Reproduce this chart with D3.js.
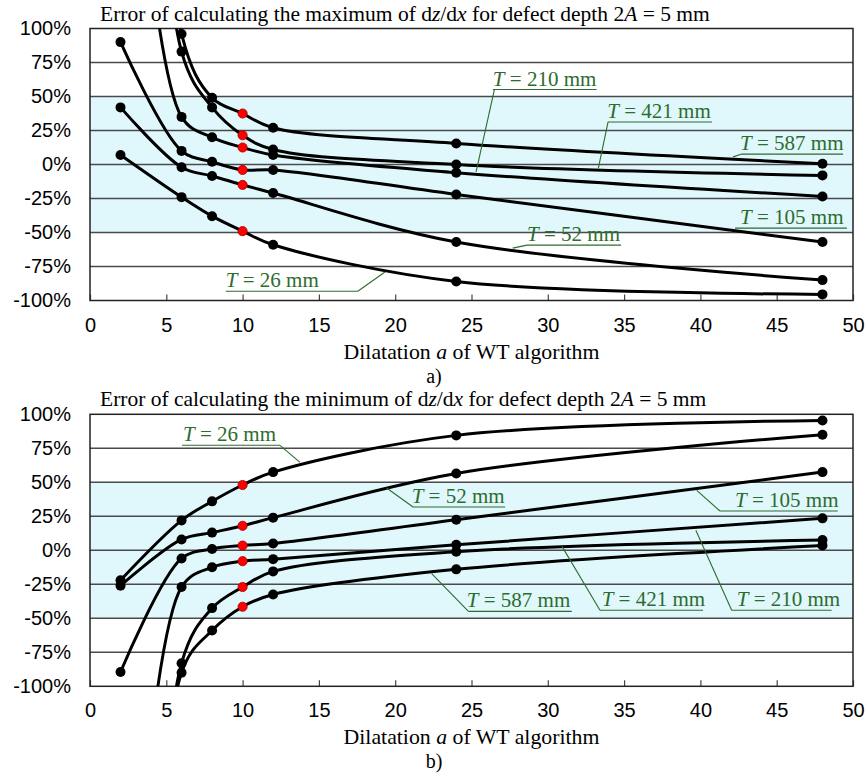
<!DOCTYPE html>
<html>
<head>
<meta charset="utf-8">
<script src="https://cdnjs.cloudflare.com/ajax/libs/d3/7.8.5/d3.min.js"></script>
<style>
  body { margin: 0; background: #fff; }
  svg { display: block; }
</style>
</head>
<body>
<div id="chart"></div>
<script>
// dilatation a of the WT algorithm (x axis)
var dilatation = [2, 6, 8, 10, 12, 24, 48];
// wall thickness T of each series, mm
var thickness = [26, 52, 105, 210, 421, 587];

// a) error of the maximum of dz/dx, %  (first values of 210/421/587 lie above the axis)
var maxErrT26  = [7, -24, -38, -49, -59, -86, -95.5];
var maxErrT52  = [42, -2, -8.5, -15, -21, -57, -85];
var maxErrT105 = [90, 10, 2, -4, -4, -22, -57];
var maxErrT210 = [400, 35, 20, 12.5, 7, -6, -23.5];
var maxErrT421 = [1000, 83, 42, 21.5, 11, 0, -8];
var maxErrT587 = [1000, 96, 49, 37.5, 27, 15.5, 0.5];

// b) error of the minimum of dz/dx, %  (first values of 210/421/587 lie below the axis)
var minErrT26  = [-22, 22, 36, 48, 57.5, 84.5, 95.5];
var minErrT52  = [-26, 8, 13, 18, 24, 56.5, 85];
var minErrT105 = [-89.5, -6, 1, 3.5, 5, 22.5, 57.5];
var minErrT210 = [-400, -27, -12.5, -8, -6.5, 4, 23.5];
var minErrT421 = [-1000, -83, -42.5, -27, -15.5, -1, 7.5];
var minErrT587 = [-1000, -90, -59, -41.5, -32.5, -14, 3.5];

var xTicks = [0, 5, 10, 15, 20, 25, 30, 35, 40, 45, 50];
var yTicks = [-100, -75, -50, -25, 0, 25, 50, 75, 100];
var highlightA = 10;   // red markers

var width = 867, height = 778;
var plotLeft = 90, plotRight = 853, plotHeight = 272;
var serif = "'Liberation Serif', 'Times New Roman', serif";
var sans = "'Liberation Sans', Arial, sans-serif";
var green = "#2e6b2e";

var svg = d3.select("#chart").append("svg")
  .attr("width", width)
  .attr("height", height);

// write text made of [string, italic] pieces
function richText(sel, parts) {
  parts.forEach(function(p) {
    sel.append("tspan").text(p[0]).style("font-style", p[1] ? "italic" : "normal");
  });
  return sel;
}

function drawPanel(cfg) {
  var top = cfg.top;
  var x = d3.scaleLinear().domain([0, 50]).range([plotLeft, plotRight]);
  var y = d3.scaleLinear().domain([-100, 100]).range([top + plotHeight, top]);
  var g = svg.append("g");

  // light band between -50% and 50%
  g.append("rect")
    .attr("x", x(0)).attr("y", y(50))
    .attr("width", x(50) - x(0)).attr("height", y(-50) - y(50))
    .attr("fill", "#e0f8fc");

  // horizontal grid
  g.selectAll(".grid")
    .data(yTicks.filter(function(d) { return Math.abs(d) < 100; }))
    .enter().append("line")
      .attr("x1", x(0)).attr("x2", x(50))
      .attr("y1", function(d) { return y(d); })
      .attr("y2", function(d) { return y(d); })
      .attr("stroke", "#4a4a4a")
      .attr("stroke-width", 1.4);

  // x axis, ticks point inwards
  var xAxis = g.append("g")
    .attr("transform", "translate(0," + y(-100) + ")")
    .call(d3.axisBottom(x).tickValues(xTicks).tickSizeInner(-6).tickSizeOuter(0).tickPadding(17));
  xAxis.select(".domain").remove();
  xAxis.selectAll("line").attr("stroke", "#444").attr("stroke-width", 1.2);
  xAxis.selectAll("text").style("font-family", sans).style("font-size", "20px").attr("fill", "#000");

  // y axis
  var yAxis = g.append("g")
    .attr("transform", "translate(" + x(0) + ",0)")
    .call(d3.axisLeft(y).tickValues(yTicks).tickSize(0).tickPadding(19)
      .tickFormat(function(d) { return d + "%"; }));
  yAxis.select(".domain").remove();
  yAxis.selectAll("text").style("font-family", sans).style("font-size", "20px").attr("fill", "#000");

  // frame
  g.append("rect")
    .attr("x", x(0)).attr("y", y(100))
    .attr("width", x(50) - x(0)).attr("height", y(-100) - y(100))
    .attr("fill", "none")
    .attr("stroke", "#222")
    .attr("stroke-width", 1.5);

  var clipId = "clip" + cfg.id;
  svg.append("clipPath").attr("id", clipId)
    .append("rect")
      .attr("x", x(0)).attr("y", y(100))
      .attr("width", x(50) - x(0)).attr("height", y(-100) - y(100));

  var plot = g.append("g").attr("clip-path", "url(#" + clipId + ")");

  var line = d3.line()
    .curve(d3.curveCatmullRom)
    .x(function(d, i) { return x(dilatation[i]); })
    .y(function(d) { return y(d); });

  cfg.series.forEach(function(values) {
    plot.append("path")
      .datum(values)
      .attr("d", line)
      .attr("fill", "none")
      .attr("stroke", "#000")
      .attr("stroke-width", 3)
      .attr("stroke-linejoin", "round");
  });

  cfg.series.forEach(function(values) {
    var pts = values.map(function(v, i) { return { a: dilatation[i], v: v }; })
      .filter(function(p) { return p.v >= -100 && p.v <= 100; });
    plot.selectAll(null)
      .data(pts)
      .enter().append("circle")
        .attr("cx", function(p) { return x(p.a); })
        .attr("cy", function(p) { return y(p.v); })
        .attr("r", function(p) { return p.a === highlightA ? 4.6 : 5; })
        .attr("fill", function(p) { return p.a === highlightA ? "#ff0000" : "#000"; })
        .attr("stroke", function(p) { return p.a === highlightA ? "#a00000" : "none"; })
        .attr("stroke-width", 0.8);
  });

  // labels "T = ... mm" with underline and leader
  cfg.notes.forEach(function(n, i) {
    g.append("line")
      .attr("x1", x(n.u0)).attr("x2", x(n.u1))
      .attr("y1", y(n.uy)).attr("y2", y(n.uy))
      .attr("stroke", green).attr("stroke-width", 1.1);
    g.append("line")
      .attr("x1", x(n.lx)).attr("y1", y(n.uy))
      .attr("x2", x(n.ax)).attr("y2", y(n.ay))
      .attr("stroke", green).attr("stroke-width", 1.1);
    richText(g.append("text")
      .attr("x", x(n.tx)).attr("y", y(n.uy) - 4)
      .attr("fill", green)
      .style("font-family", serif)
      .style("font-size", "21px"),
      [["T", true], [" = " + thickness[n.s] + " mm", false]]);
  });

  // title
  richText(g.append("text")
    .attr("x", 100).attr("y", top - 8)
    .style("font-family", serif).style("font-size", "21.5px"),
    [["Error of calculating the " + cfg.kind + " of d", false], ["z", true], ["/d", false], ["x", true],
     [" for defect depth 2", false], ["A", true], [" = 5 mm", false]]);

  // x axis title and caption
  richText(g.append("text")
    .attr("x", (x(0) + x(50)) / 2).attr("y", y(-100) + 58)
    .attr("text-anchor", "middle")
    .style("font-family", serif).style("font-size", "21.8px"),
    [["Dilatation ", false], ["a", true], [" of WT algorithm", false]]);

  g.append("text")
    .attr("x", 434).attr("y", y(-100) + 82)
    .attr("text-anchor", "middle")
    .style("font-family", serif).style("font-size", "20px")
    .text(cfg.caption);
}

drawPanel({
  id: "a", top: 28.5, kind: "maximum", caption: "a)",
  series: [maxErrT26, maxErrT52, maxErrT105, maxErrT210, maxErrT421, maxErrT587],
  notes: [
    { s: 0, tx: 8.9,  u0: 8.9,   u1: 17.55, uy: -93.2, lx: 17.55, ax: 19.33, ay: -79 },
    { s: 1, tx: 28.64, u0: 28.64, u1: 34.8,  uy: -59.3, lx: 28.64, ax: 27.7,  ay: -61.5 },
    { s: 2, tx: 42.6, u0: 42.27, u1: 49.6,  uy: -46.8, lx: 42.27, ax: 42.27, ay: -46.8 },
    { s: 3, tx: 26.4, u0: 26.4,  u1: 33.2,  uy: 55.1,  lx: 26.5,  ax: 25.3,  ay: -5.4 },
    { s: 4, tx: 33.9, u0: 33.95, u1: 40.76, uy: 31.3,  lx: 33.95, ax: 33.31, ay: -2.9 },
    { s: 5, tx: 42.6, u0: 42.66, u1: 49.35, uy: 7.6,   lx: 42.66, ax: 42.14, ay: 5.6 }
  ]
});

drawPanel({
  id: "b", top: 414.3, kind: "minimum", caption: "b)",
  series: [minErrT26, minErrT52, minErrT105, minErrT210, minErrT421, minErrT587],
  notes: [
    { s: 0, tx: 6.1,   u0: 6.03,  u1: 12.45, uy: 77.2,  lx: 12.45, ax: 13.76, ay: 64.7 },
    { s: 1, tx: 21.08, u0: 21.17, u1: 27.2,  uy: 31.8,  lx: 21.17, ax: 19.44, ay: 45.8 },
    { s: 2, tx: 42.27, u0: 41.28, u1: 49.0,  uy: 28.9,  lx: 41.28, ax: 39.76, ay: 44.1 },
    { s: 3, tx: 42.38, u0: 42.05, u1: 48.6,  uy: -44.1, lx: 42.05, ax: 39.7,  ay: 14.7 },
    { s: 4, tx: 33.53, u0: 33.42, u1: 40.17, uy: -44.1, lx: 33.42, ax: 30.93, ay: 2.9 },
    { s: 5, tx: 24.69, u0: 24.8,  u1: 31.57, uy: -44.9, lx: 24.8,  ax: 22.39, ay: -17.1 }
  ]
});
</script>
</body>
</html>
